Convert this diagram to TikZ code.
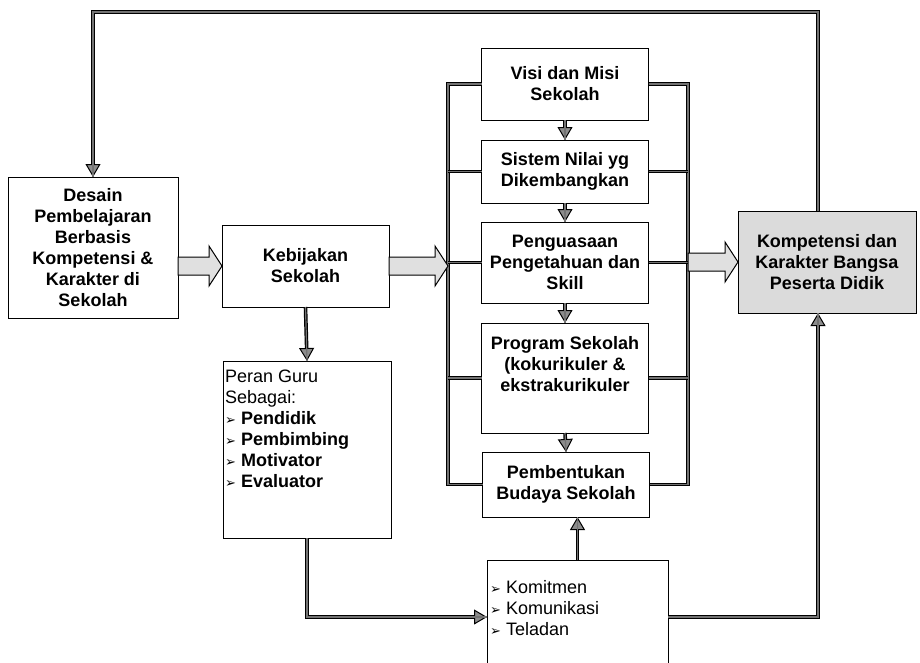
\documentclass[tikz,border=0pt]{standalone}
\usepackage{fontspec}
\setmainfont{Liberation Sans}
\newfontfamily\dejavu{DejaVu Sans}
\usetikzlibrary{arrows.meta,calc}

% small arrowhead used as list bullet
\newcommand{\bul}{{\dejavu\fontsize{13}{13}\selectfont ➢}\ }

% wide hollow arrow running horizontally from #1 to the x of #2
\newcommand{\blockarrow}[2]{%
  \draw[blockarrow] let \p1=(#1), \p2=(#2) in
    (\x1,\y1+9pt) -- (\x2-13pt,\y1+9pt) -- (\x2-13pt,\y1+20pt) -- (\x2,\y1)
    -- (\x2-13pt,\y1-20pt) -- (\x2-13pt,\y1-9pt) -- (\x1,\y1-9pt) -- cycle;}

\tikzset{
  box/.style={draw=black, line width=1pt, rectangle, outer sep=0pt, inner sep=2pt,
    align=center, font=\bfseries\fontsize{18}{21}\selectfont},
  shadedbox/.style={box, fill=black!14},
  listtext/.style={inner sep=0pt, align=left, font=\fontsize{18}{21}\selectfont},
  conn/.style={draw=black, line width=3.6pt,
    postaction={draw=black!55, line width=1.2pt, -}},
  arr/.style={conn, -{Triangle[width=15pt,length=13pt,line width=1pt,fill=black!45]}},
  blockarrow/.style={draw=black, line width=1pt, fill=black!12, line join=miter},
}

\begin{document}
\begin{tikzpicture}[x=1pt, y=-1pt]
\useasboundingbox (0,0) rectangle (920,662);
\fill[white] (0,0) rectangle (920,662);

% left part
\node[box, minimum width=170pt, minimum height=141pt] (desain) at (93,247.5)
  {Desain\\Pembelajaran\\Berbasis\\Kompetensi \&\\Karakter di\\Sekolah};
\node[box, minimum width=167pt, minimum height=82pt] (keb) at (305.5,266)
  {Kebijakan\\Sekolah};
\node[box, minimum width=168pt, minimum height=177pt] (peran) at (307,449.5) {};
\node[listtext, anchor=north west] (perantxt) at ([xshift=2pt,yshift=-9pt]peran.north west)
  {Peran Guru\\Sebagai:\\\bul\textbf{Pendidik}\\\bul\textbf{Pembimbing}\\\bul\textbf{Motivator}\\\bul\textbf{Evaluator}};

% central column
\node[box, minimum width=167pt, minimum height=72pt] (visi) at (565,84)
  {Visi dan Misi\\Sekolah};
\node[box, minimum width=167pt, minimum height=63pt] (sistem) at (565,171.5)
  {Sistem Nilai yg\\Dikembangkan};
\node[box, minimum width=167pt, minimum height=81pt] (peng) at (565,262.5)
  {Penguasaan\\Pengetahuan dan\\Skill};
\node[box, minimum width=167pt, minimum height=110pt] (prog) at (565,378) {};
\node[box, draw=none, anchor=north] (progtxt) at ([yshift=-11pt]prog.north)
  {Program Sekolah\\(kokurikuler \&\\ekstrakurikuler};
\node[box, minimum width=167pt, minimum height=65pt] (pemb) at (566,484.5)
  {Pembentukan\\Budaya Sekolah};

% bottom box, open towards the lower edge
\node[box, minimum width=181pt, minimum height=110pt] (bot) at (577.5,615) {};
\node[listtext, anchor=north west] (bottxt) at ([xshift=3pt,yshift=-20pt]bot.north west)
  {\bul Komitmen\\\bul Komunikasi\\\bul Teladan};

% result box
\node[shadedbox, minimum width=178pt, minimum height=102pt] (komp) at (827,262)
  {Kompetensi dan\\Karakter Bangsa\\Peserta Didik};

% bus lines on both sides of the column
\coordinate (lbus) at (448,0);
\coordinate (rbus) at (688,0);
\coordinate (topy) at (0,12);
\coordinate (lowy) at (0,617);
\coordinate (kompin) at ([xshift=-9pt]komp.south);
\coordinate (kompout) at ([xshift=-9pt]komp.north);

\draw[conn] (visi.west) -| (pemb.west -| lbus) -- (pemb.west);
\draw[conn] (sistem.west) -- (sistem.west -| lbus);
\draw[conn] (peng.west) -- (peng.west -| lbus);
\draw[conn] (prog.west) -- (prog.west -| lbus);
\draw[conn] (visi.east) -| (pemb.east -| rbus) -- (pemb.east);
\draw[conn] (sistem.east) -- (sistem.east -| rbus);
\draw[conn] (peng.east) -- (peng.east -| rbus);
\draw[conn] (prog.east) -- (prog.east -| rbus);

% arrows down the column
\draw[arr] (visi.south) -- (sistem.north);
\draw[arr] (sistem.south) -- (peng.north);
\draw[arr] (peng.south) -- (prog.north);
\draw[arr] (prog.south) -- (pemb.north);

% other connectors
\draw[arr] (keb.south) -- (peran.north);
\draw[arr] (bot.north) -- (bot.north |- pemb.south);
\draw[arr] (peran.south) |- (lowy -| bot.west);
\draw[arr] (bot.east |- lowy) -| (kompin);
\draw[arr] (kompout) |- (topy -| desain.north) -- (desain.north);

% wide hollow arrows
\blockarrow{desain.east |- keb.west}{keb.west}
\blockarrow{keb.east}{lbus |- keb.east}
\blockarrow{rbus |- komp.west}{komp.west}
\end{tikzpicture}
\end{document}
